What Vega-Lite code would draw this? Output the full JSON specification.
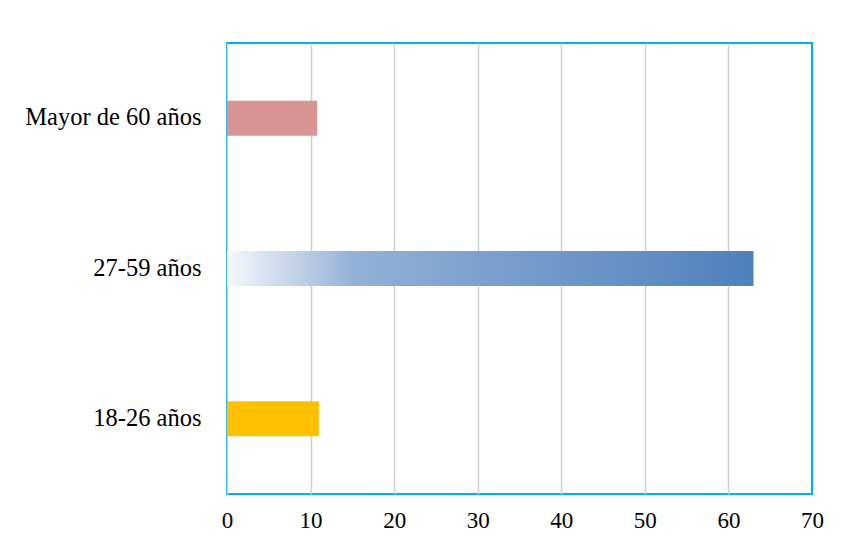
{
  "$schema": "https://vega.github.io/schema/vega-lite/v6.json",
  "autosize": "none",
  "width": 585,
  "height": 451,
  "padding": {"left": 227, "top": 43, "right": 29, "bottom": 54},
  "background": "white",
  "data": {
    "values": [
      {"grupo": "Mayor de 60 años", "valor": 10.8, "tipo": "rosa"},
      {"grupo": "27-59 años", "valor": 63.0, "tipo": "grad"},
      {"grupo": "18-26 años", "valor": 11.0, "tipo": "amarillo"}
    ]
  },
  "config": {
    "view": {"stroke": "#00B0F0", "strokeWidth": 2},
    "font": "Liberation Serif"
  },
  "encoding": {
    "y": {
      "field": "grupo",
      "type": "nominal",
      "sort": ["Mayor de 60 años", "27-59 años", "18-26 años"],
      "title": null,
      "axis": {
        "domain": false,
        "ticks": false,
        "labelFont": "Liberation Serif",
        "labelFontSize": 24.5,
        "labelColor": "#000000",
        "labelPadding": 26
      }
    },
    "x": {
      "field": "valor",
      "type": "quantitative",
      "title": null,
      "scale": {"domain": [0, 70], "nice": false},
      "axis": {
        "values": [0, 10, 20, 30, 40, 50, 60, 70],
        "domain": false,
        "ticks": false,
        "grid": true,
        "gridColor": {"condition": {"test": "datum.value === 70", "value": "#00B0F0"}, "value": "#d0d0d0"},
        "gridWidth": 1.5,
        "labelFont": "Liberation Serif",
        "labelFontSize": 23,
        "labelColor": "#000000",
        "labelPadding": 15,
        "labelFlush": false
      }
    }
  },
  "layer": [
    {
      "transform": [{"filter": "datum.tipo !== 'grad'"}],
      "mark": {"type": "bar", "size": 35},
      "encoding": {
        "color": {
          "field": "tipo",
          "type": "nominal",
          "scale": {"domain": ["rosa", "amarillo"], "range": ["#D99594", "#FFC000"]},
          "legend": null
        }
      }
    },
    {
      "transform": [{"filter": "datum.tipo === 'grad'"}],
      "mark": {
        "type": "bar",
        "size": 35,
        "color": {
          "gradient": "linear",
          "x1": 0, "y1": 0, "x2": 1, "y2": 0,
          "stops": [
            {"offset": 0, "color": "#F5F8FC"},
            {"offset": 0.12, "color": "#C6D5E9"},
            {"offset": 0.24, "color": "#94B1D6"},
            {"offset": 0.5, "color": "#7B9FCD"},
            {"offset": 1, "color": "#4F81BD"}
          ]
        }
      }
    }
  ]
}
